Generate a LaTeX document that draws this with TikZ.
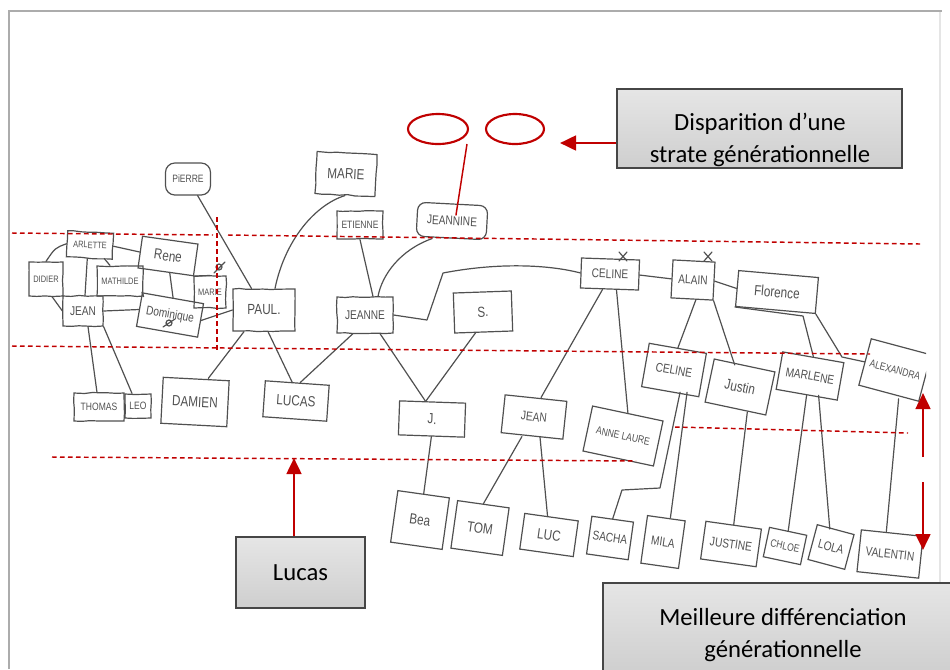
\documentclass[tikz,border=0pt]{standalone}
\usepackage{fontspec}
\newfontfamily\calib{Carlito}
\newfontfamily\handf[FakeStretch=0.8]{Liberation Sans}
\usetikzlibrary{decorations.pathmorphing,arrows.meta}
\definecolor{ink}{HTML}{505050}
\definecolor{redm}{HTML}{C00000}
\newcommand\pers[8][]{\node[pn,minimum width=#5*0.75pt,minimum height=#6*0.75pt,rotate=#7,#1] (#2) at (#3,#4) {#8};}
\tikzset{
  pn/.style={draw=ink, line width=0.9pt, text=ink, inner sep=0pt,
    font=\handf\fontsize{9.5}{10}\selectfont},
  rough/.style={decorate, decoration={random steps,segment length=6pt,amplitude=0.4pt}},
  roundish/.style={rounded corners=#1},
  sm/.style={font=\handf\fontsize{8}{9}\selectfont},
  xs/.style={font=\handf\fontsize{7}{8}\selectfont},
  big/.style={font=\handf\fontsize{11}{12}\selectfont},
  ln/.style={draw=ink, line width=0.9pt, line cap=round, line join=round},
  rdash/.style={draw=redm, line width=1.1pt, dash pattern=on 3.5pt off 2.5pt},
  rarrow/.style={draw=redm, line width=2pt, -{Triangle[length=12pt,width=11pt]}},
  callout/.style={draw=gray!55!black, line width=0.9pt, top color=gray!20, bottom color=gray!38},
  calltext/.style={font=\calib\fontsize{18.5}{23.5}\selectfont, align=center, text=black},
}
\begin{document}
\begin{tikzpicture}[x=0.75pt,y=-0.75pt]
\useasboundingbox (0,0) rectangle (950,669);
% frame
\draw[gray!65, line width=2.2pt] (9,669) -- (9,11) -- (942,11);
\draw[gray!20, line width=1pt] (940,12) -- (940,669);

\begin{scope}
\clip (11,13) rectangle (926,669);
% ---------- nodes ----------
\pers[roundish=7pt,sm]{PIERRE}{188}{179}{45}{32}{0}{PiERRE}
\pers[rough,big]{MARIE}{346}{174}{60}{42}{-3}{MARIE}
\pers[rough,sm]{ETIENNE}{360}{225}{46}{28}{0}{ETIENNE}
\pers[roundish=6pt]{JEANNINE}{452}{221}{70}{34}{-3}{JEANNINE}
\pers[xs,rough]{ARLETTE}{90}{245}{46}{26}{-3}{ARLETTE}
\pers[big]{RENE}{168}{256}{56}{32}{-8}{Rene}
\pers[xs,rough]{DIDIER}{46}{279}{34}{34}{0}{DIDIER}
\pers[xs,rough]{MATHILDE}{120}{281}{46}{30}{0}{MATHILDE}
\pers[xs,rough]{MARIEB}{210}{292}{32}{32}{0}{MARIE}
\pers[rough]{JEANA}{83}{311}{40}{30}{0}{JEAN}
\pers{DOMINIQUE}{170}{315}{62}{34}{-10}{Dominique}
\pers[big,rough]{PAUL}{264}{310}{62}{42}{0}{PAUL.}
\pers[rough]{JEANNE}{365}{315}{56}{36}{0}{JEANNE}
\pers[big]{S}{483}{312}{58}{40}{2}{S.}
\pers{CELINE}{610}{274}{58}{30}{-2}{CELINE}
\pers{ALAIN}{693}{280}{42}{38}{-3}{ALAIN}
\pers[big]{FLORENCE}{777}{292}{80}{36}{-5}{Florence}
\pers[sm,rough]{THOMAS}{99}{407}{50}{28}{0}{THOMAS}
\pers[sm,rough]{LEO}{138}{406}{26}{24}{0}{LEO}
\pers[big]{DAMIEN}{195}{402}{66}{46}{-3}{DAMIEN}
\pers[big]{LUCAS}{296}{401}{64}{36}{-4}{LUCAS}
\pers[big]{J}{432}{419}{66}{34}{-2}{J.}
\pers{JEANB}{534}{417}{62}{38}{-6}{JEAN}
\pers[sm]{ANNELAURE}{623}{436}{72}{46}{-12}{ANNE LAURE}
\pers{CELINEB}{674}{370}{58}{44}{-10}{CELINE}
\pers[big]{JUSTIN}{740}{387}{62}{44}{-12}{Justin}
\pers{MARLENE}{810}{376}{62}{38}{-10}{MARLENE}
\pers[sm]{ALEXANDRA}{895}{370}{62}{48}{-15}{ALEXANDRA}
\pers[big]{BEA}{420}{520}{52}{52}{-8}{Bea}
\pers[big]{TOM}{480}{528}{52}{48}{-8}{TOM}
\pers[big]{LUC}{549}{535}{54}{36}{-8}{LUC}
\pers{SACHA}{610}{538}{42}{38}{-8}{SACHA}
\pers{MILA}{663}{542}{38}{48}{-8}{MILA}
\pers{JUSTINE}{731}{544}{56}{38}{-8}{JUSTINE}
\pers[sm]{CHLOE}{785}{546}{38}{30}{-12}{CHLOE}
\pers{LOLA}{831}{547}{38}{36}{-15}{LOLA}
\pers{VALENTIN}{890}{554}{62}{42}{-6}{VALENTIN}

% ---------- connectors ----------
\draw[ln] (PIERRE) -- (PAUL);
\draw[ln] ([shift={(11,0)}]PAUL.north) .. controls (285,240) and (315,205) .. (MARIE.south);
\draw[ln] (ETIENNE.south) -- ([shift={(8,0)}]JEANNE.north);
\draw[ln] ([shift={(-19,0)}]JEANNINE.south) .. controls (400,250) and (382,275) .. ([shift={(13,0)}]JEANNE.north);
\draw[ln] (JEANNE.east) -- (427,320) -- (443,273) .. controls (500,262) and (550,265) .. (CELINE.west);
\draw[ln] ([shift={(15,0)}]JEANNE.south) -- ([shift={(-7,0)}]J.north);
\draw[ln] ([shift={(-8,0)}]S.south) -- ([shift={(-7,0)}]J.north);
\draw[ln] ([shift={(4,0)}]PAUL.south) -- ([shift={(-5,0)}]LUCAS.north);
\draw[ln] ([shift={(-12,0)}]JEANNE.south) -- ([shift={(3,0)}]LUCAS.north);
\draw[ln] ([shift={(-20,0)}]PAUL.south) -- ([shift={(12,0)}]DAMIEN.north);
\draw[ln] ([shift={(5,0)}]JEANA.south) -- ([shift={(-2,0)}]THOMAS.north);
\draw[ln] (JEANA.south east) -- ([shift={(-6,0)}]LEO.north);
\draw[ln] (ARLETTE.west) .. controls (55,248) .. (DIDIER.north);
\draw[ln] ([shift={(-2,0)}]ARLETTE.south) -- ([shift={(2,0)}]JEANA.north);
\draw[ln] (ARLETTE.east) -- (RENE.west);
\draw[ln] ([shift={(15,0)}]ARLETTE.south) -- ([shift={(-10,0)}]MATHILDE.north);
\draw[ln] ([shift={(6,0)}]DIDIER.south) -- (JEANA.west);
\draw[ln] (JEANA.east) -- (DOMINIQUE.west);
\draw[ln] (MATHILDE.south east) -- (DOMINIQUE.north west);
\draw[ln] ([shift={(4,0)}]RENE.south) -- (DOMINIQUE.north);
\draw[ln] (RENE.south east) -- (MARIEB.north);
\draw[ln] (DOMINIQUE.east) -- (PAUL.west);
\draw[ln] (CELINE.east) -- (ALAIN.west);
\draw[ln] (ALAIN.east) -- (FLORENCE.west);
\draw[ln] ([shift={(-7,0)}]CELINE.south) -- ([shift={(5,0)}]JEANB.north);
\draw[ln] ([shift={(7,0)}]CELINE.south) -- (ANNELAURE.north);
\draw[ln] ([shift={(4,0)}]ALAIN.south) -- (CELINEB.north);
\draw[ln] (ALAIN.south east) -- ([shift={(-10,0)}]JUSTIN.north);
\draw[ln] (FLORENCE.south west) -- (803,316) -- (MARLENE.north);
\draw[ln] (FLORENCE.south east) -- (842,357) -- (ALEXANDRA.west);
\draw[ln] ([shift={(10,0)}]CELINEB.south) -- (660,488) -- (622,490) -- (SACHA.north);
\draw[ln] ([shift={(17,0)}]CELINEB.south) -- ([shift={(4,0)}]MILA.north);
\draw[ln] ([shift={(12,3)}]JUSTIN.south) -- (JUSTINE.north);
\draw[ln] (MARLENE.south) -- (CHLOE.north);
\draw[ln] ([shift={(12,0)}]MARLENE.south) -- ([shift={(-6,0)}]LOLA.north);
\draw[ln] ([shift={(10,5)}]ALEXANDRA.south) -- ([shift={(-6,0)}]VALENTIN.north);
\draw[ln] (J.south) -- (BEA.north);
\draw[ln] ([shift={(-10,0)}]JEANB.south) -- (TOM.north);
\draw[ln] ([shift={(8,0)}]JEANB.south) -- ([shift={(-4,0)}]LUC.north);

% marks
\draw[ln] (619,252) -- (627,261) (627,252) -- (619,261);
\draw[ln] (704,252) -- (712,261) (712,252) -- (704,261);
\draw[ln] (219,267) circle[radius=3] (214,273) -- (225,262);
\draw[ln] (169,323) circle[radius=3] (163,327) -- (175,319);
\end{scope}

% red dashed strata lines
\draw[rdash] (12,233) -- (213,235);
\draw[rdash] (228,235) -- (920,244);
\draw[rdash] (217,217) -- (217,350);
\draw[rdash] (12,346) -- (870,354);
\draw[rdash] (52,457) -- (636,461);
\draw[rdash] (675,427) -- (908,433);

% ellipses
\draw[redm, line width=1.6pt] (438,129) ellipse[x radius=30, y radius=15];
\draw[redm, line width=1.6pt] (515,129) ellipse[x radius=29, y radius=15];
\coordinate (EL) at (467,144);
\draw[redm, line width=1.1pt] (EL) -- ([shift={(3,12)}]JEANNINE.north);

% callouts
\node[callout, minimum width=285*0.75pt, minimum height=79*0.75pt] (C1) at (759.5,128.5) {};
\node[calltext] (T1) at (760,140) {Disparition d’une\\strate générationnelle};
\node[callout, minimum width=129*0.75pt, minimum height=71*0.75pt] (C2) at (300.5,572.5) {};
\node[calltext] (T2) at (300.5,573) {Lucas};
\node[callout, minimum width=350*0.75pt, minimum height=90*0.75pt] (C3) at (778,628) {};
\node[calltext] (T3) at (783,635) {Meilleure différenciation\\générationnelle};

% arrows
\draw[rarrow] (C1.west |- 0,143) -- (560,143);
\draw[rarrow] ([shift={(-6.5,0)}]C2.north) -- (294,458);
\coordinate (AU) at (923,457);
\coordinate (AD) at (923,482);
\draw[rarrow] (AU) -- (923,393);
\draw[rarrow] (AD) -- (923,550);
\end{tikzpicture}
\end{document}
